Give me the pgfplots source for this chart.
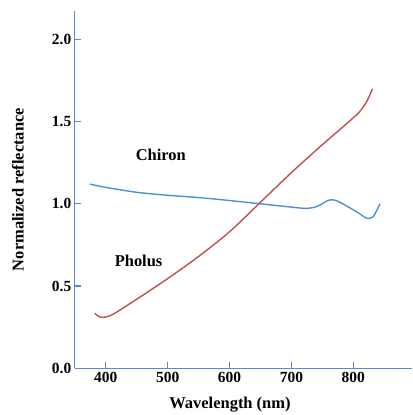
\documentclass[border=0pt]{standalone}
\usepackage{pgfplots}
\pgfplotsset{compat=1.18}
\usepackage{fontspec}
\setmainfont{Liberation Serif}
\definecolor{axblue}{RGB}{84,138,208}
\definecolor{chiron}{RGB}{80,142,218}
\definecolor{pholus}{RGB}{192,80,77}
\begin{document}
\begin{tikzpicture}
\begin{axis}[
  name=ax,
  scale only axis, width=338pt, height=358pt,
  xmin=350, xmax=895, ymin=0, ymax=2.173,
  axis lines*=left,
  axis line style={axblue, line width=1.2pt},
  xtick={400,500,600,700,800}, ytick={0,0.5,1,1.5,2},
  tick style={axblue, line width=1.2pt},
  tick align=inside, major tick length=6pt,
  /pgf/number format/assume math mode=true,
  yticklabel style={/pgf/number format/fixed, /pgf/number format/fixed zerofill, /pgf/number format/precision=1},
  xticklabel style={/pgf/number format/1000 sep={}},
  ticklabel style={font=\bfseries\fontsize{15.5}{15.5}\selectfont},
  xlabel={Wavelength (nm)}, ylabel={Normalized reflectance},
  xlabel style={font=\bfseries\fontsize{16.5}{16.5}\selectfont, at={([yshift=-36pt]rel axis cs:0.46,0)}, anchor=center},
  ylabel style={font=\bfseries\fontsize{16.5}{16.5}\selectfont, at={([xshift=-57pt]rel axis cs:0,0.5)}, anchor=center},
]
\addplot[chiron, line width=1.4pt, smooth, tension=0.5] coordinates {
(374,1.12) (400,1.10) (450,1.07) (500,1.052) (550,1.038) (600,1.02) (650,1.0) (700,0.98) (725,0.972) (742,0.985) (760,1.022) (772,1.02) (790,0.985) (808,0.945) (822,0.912) (832,0.922) (843,1.0)};
\addplot[pholus, line width=1.4pt, smooth, tension=0.5] coordinates {
(382,0.335) (392,0.31) (410,0.325) (450,0.42) (500,0.545) (550,0.68) (600,0.83) (650,1.01) (700,1.19) (750,1.36) (790,1.49) (810,1.56) (822,1.625) (831,1.70)};
\node[font=\bfseries\fontsize{16.5}{16.5}\selectfont] at (axis cs:489,1.297) {Chiron};
\node[font=\bfseries\fontsize{16.5}{16.5}\selectfont] at (axis cs:453,0.655) {Pholus};
\end{axis}
\path (ax.south west) ++(-75pt,-45.5pt) rectangle ([yshift=11pt]ax.north east);
\end{tikzpicture}
\end{document}
